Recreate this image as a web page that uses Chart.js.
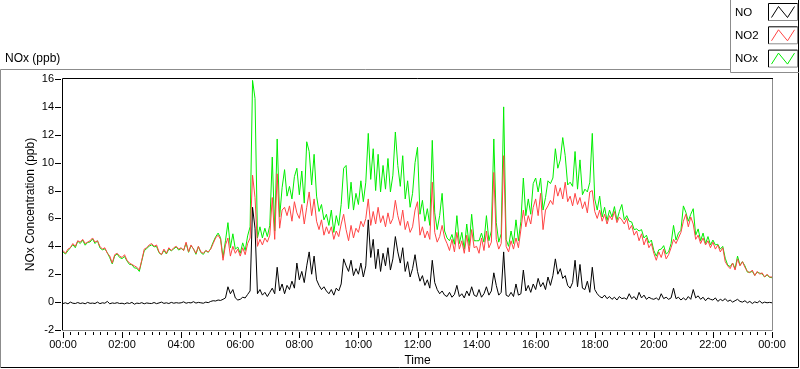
<!DOCTYPE html>
<html>
<head>
<meta charset="utf-8">
<script src="https://cdn.jsdelivr.net/npm/chart.js@4"></script>
<style>
  body { margin: 0; background: #fff; }
</style>
</head>
<body>
<canvas id="myChart" width="800" height="369"></canvas>
<script>
  // samples every 5 minutes, 00:00 -> 24:00 (289 points)
  var NO = [
    -0.10,-0.05,-0.12,0.00,-0.08,-0.10,-0.03,-0.10,-0.06,-0.12,-0.02,-0.09,
    -0.07,-0.10,0.00,-0.11,-0.05,-0.08,0.05,-0.12,-0.06,-0.09,-0.04,-0.10,
    -0.08,-0.13,-0.05,-0.10,-0.02,-0.15,-0.07,-0.10,-0.04,-0.12,-0.06,-0.09,
    -0.10,-0.03,-0.11,-0.06,0.00,-0.09,-0.05,-0.10,-0.02,-0.08,-0.04,-0.07,
    -0.05,0.02,-0.08,-0.03,-0.06,0.03,-0.07,-0.02,-0.05,-0.08,0.00,-0.04,
    0.05,0.10,0.08,0.15,0.12,0.20,0.30,1.10,0.60,0.90,0.30,0.15,
    0.20,0.35,0.30,0.55,0.80,6.80,5.30,0.60,0.90,0.50,0.70,0.40,
    0.70,1.00,0.60,2.50,0.80,1.30,0.60,1.20,0.90,1.50,1.00,2.80,
    1.60,2.20,1.40,2.60,3.60,2.00,3.30,1.60,1.20,0.90,1.10,0.80,
    0.60,0.90,0.50,1.00,0.80,1.30,3.10,2.60,2.20,3.00,1.90,2.40,
    2.00,2.80,1.80,2.60,5.90,3.20,4.50,2.40,3.80,2.20,3.50,2.60,
    3.90,2.30,3.10,4.70,3.60,2.80,3.90,2.20,2.90,1.80,2.40,3.40,
    2.20,1.50,1.90,1.20,1.60,1.00,3.00,1.40,0.90,0.60,0.80,0.50,
    0.40,0.70,0.35,0.55,1.20,0.40,0.60,0.30,0.80,0.45,1.10,0.50,
    0.40,0.90,0.35,0.60,1.10,0.50,0.80,2.10,1.20,0.50,0.70,3.60,
    0.50,0.40,0.70,0.40,1.30,0.50,0.60,2.30,0.80,1.20,0.70,1.30,
    0.90,1.70,1.10,1.40,0.90,1.80,1.20,1.90,3.10,2.00,2.40,1.70,
    1.90,1.20,1.00,1.40,3.00,1.10,2.70,1.00,0.90,1.50,0.70,2.50,
    0.90,0.60,0.40,0.30,0.50,0.25,0.40,0.20,0.35,0.15,0.40,0.25,
    0.30,0.20,0.60,0.25,0.40,0.15,0.70,0.30,0.50,0.20,0.35,0.25,
    0.20,0.30,0.15,0.60,0.25,0.35,0.20,0.30,1.00,0.25,0.35,0.15,
    0.30,0.15,0.40,0.20,0.90,0.30,0.45,0.20,0.35,0.10,0.30,0.20,
    0.15,0.30,0.05,0.20,0.10,0.25,0.05,0.15,0.00,0.10,0.20,0.05,
    0.00,0.10,-0.05,0.05,-0.10,0.02,-0.05,0.08,-0.08,0.00,-0.05,-0.02,
    -0.05
  ];

  var NO2 = [
    3.7,3.5,3.8,3.9,4.2,4.0,4.4,4.3,4.5,4.2,4.3,4.4,
    4.6,4.3,4.4,4.0,3.8,3.9,3.5,3.3,2.8,3.4,3.5,3.3,
    3.2,3.4,3.0,2.8,2.7,2.6,2.5,2.3,3.0,3.8,3.9,4.1,
    4.2,4.0,4.1,3.6,3.4,3.8,3.5,3.9,3.7,3.9,4.0,3.8,
    3.9,3.7,4.3,3.6,4.1,3.8,3.5,4.0,3.6,3.5,3.7,3.6,
    3.8,4.2,4.6,4.8,4.5,3.0,4.1,4.6,3.3,4.0,3.5,3.8,
    3.3,3.9,3.4,4.2,4.6,9.1,7.5,4.0,4.5,4.1,4.6,4.3,
    4.8,7.5,4.5,9.2,5.3,6.6,6.8,6.2,6.9,5.8,7.2,6.4,
    6.0,7.0,5.6,6.8,7.9,6.2,7.4,5.8,5.2,5.9,4.8,5.4,
    4.9,5.4,4.5,5.1,4.7,5.6,6.3,5.2,4.4,5.5,4.6,5.3,
    5.0,5.8,5.4,6.0,7.4,5.5,6.5,5.6,6.8,5.7,6.2,5.4,
    6.4,5.6,6.0,7.3,6.2,5.5,6.6,5.2,5.8,5.0,5.4,6.6,
    7.2,4.8,5.4,4.6,5.1,4.5,8.6,5.0,4.3,4.7,5.5,4.6,
    4.2,3.7,4.5,3.6,5.0,3.8,4.4,3.5,4.8,3.6,5.2,3.9,
    4.0,3.5,4.6,3.7,5.1,3.9,4.3,9.3,4.5,3.8,4.2,10.5,
    4.0,3.6,4.4,3.8,4.6,3.9,5.2,6.6,5.4,6.2,5.6,6.8,
    7.4,6.2,7.8,5.2,6.6,6.9,7.3,7.0,8.4,7.6,8.2,7.4,
    8.6,7.2,7.6,6.9,7.8,7.0,7.5,6.7,7.2,6.4,7.9,8.0,
    6.5,6.0,6.6,5.8,6.3,5.6,6.2,5.9,6.5,5.7,6.1,5.9,
    5.6,6.0,5.2,5.5,4.8,5.1,4.4,4.9,4.1,4.6,3.9,4.2,
    3.5,3.0,3.6,3.2,3.8,3.1,3.4,3.9,4.5,4.2,4.6,5.0,
    5.8,6.3,5.4,6.1,5.6,4.5,4.8,4.2,4.6,4.1,4.4,3.9,
    4.3,3.8,4.1,3.6,3.9,2.9,2.6,2.4,2.8,2.3,3.1,2.6,
    2.9,2.5,2.2,2.1,2.3,1.9,2.2,2.0,2.1,1.8,2.0,1.8,
    1.8
  ];

  var NOx = [
    3.60,3.45,3.68,3.90,4.12,3.90,4.37,4.20,4.44,4.08,4.28,4.31,
    4.53,4.20,4.40,3.89,3.75,3.82,3.55,3.18,2.74,3.31,3.46,3.20,
    3.12,3.27,2.95,2.70,2.68,2.45,2.43,2.20,2.96,3.68,3.84,4.01,
    4.10,3.97,3.99,3.54,3.40,3.71,3.45,3.80,3.68,3.82,3.96,3.73,
    3.85,3.72,4.22,3.57,4.04,3.83,3.43,3.98,3.55,3.42,3.70,3.56,
    3.85,4.30,4.68,4.95,4.62,3.20,4.40,5.70,3.90,4.90,3.80,3.95,
    3.50,4.25,3.70,4.75,5.40,15.9,14.6,4.60,5.40,4.60,5.30,4.70,
    5.50,10.4,5.10,11.7,6.10,8.20,9.50,7.60,8.30,7.40,9.00,9.60,
    7.70,9.40,7.10,11.5,10.8,8.40,10.6,7.60,6.50,7.00,5.90,6.30,
    5.50,6.60,5.00,6.20,5.50,7.00,9.60,9.80,6.70,8.60,6.60,7.80,
    7.00,8.70,7.20,8.60,12.1,8.80,11.0,8.00,10.6,7.90,9.80,8.10,
    10.3,7.90,9.10,12.2,9.80,8.30,10.5,7.40,8.70,6.80,7.80,10.0,
    11.1,6.30,7.30,5.80,6.70,5.50,11.6,6.40,5.20,6.20,7.80,5.10,
    4.60,4.40,4.85,4.15,6.20,4.20,5.00,3.80,5.60,4.05,6.30,4.40,
    4.40,4.40,4.95,4.30,6.20,4.40,5.10,11.7,5.70,4.30,4.90,14.0,
    4.50,4.00,5.10,4.20,5.90,4.40,5.80,8.90,6.20,7.40,6.30,8.50,
    8.90,7.90,8.90,6.60,7.50,8.70,8.50,8.90,11.0,9.60,10.2,11.8,
    10.5,8.40,8.60,8.30,10.8,8.10,10.2,7.70,8.10,7.90,8.60,12.1,
    7.40,6.60,7.60,6.10,6.80,5.85,6.60,6.10,6.85,5.85,6.50,7.00,
    5.90,6.20,5.80,5.75,5.20,5.25,5.10,5.20,4.60,4.80,4.25,4.45,
    3.70,3.30,3.75,3.80,4.05,3.45,3.60,4.20,5.50,4.45,4.95,5.15,
    6.90,6.45,5.80,6.30,6.70,4.80,5.25,4.40,4.95,4.20,4.70,4.10,
    4.45,4.10,4.15,3.80,4.00,3.15,2.65,2.55,2.80,2.40,3.30,2.65,
    2.90,2.60,2.15,2.15,2.20,1.92,2.15,2.08,2.02,1.80,1.95,1.78,
    1.75
  ];

  var xTickLabels = ['00:00','02:00','04:00','06:00','08:00','10:00','12:00',
                     '14:00','16:00','18:00','20:00','22:00','00:00'];
  var yTicks = [-2, 0, 2, 4, 6, 8, 10, 12, 14, 16];

  // minutes since midnight for each sample
  var minutes = NO.map(function(v, i){ return i * 5; });
  function pts(arr){ return arr.map(function(v, i){ return {x: minutes[i], y: v}; }); }

  var FONT = 'Liberation Sans';

  // LabVIEW-ish frame, ticks, title and plot legend
  const decor = {
    id: 'decor',
    afterDraw(chart) {
      const ctx = chart.ctx, a = chart.chartArea;
      const xs = chart.scales.x, ys = chart.scales.y;
      ctx.save();
      ctx.lineWidth = 1;

      // outer panel
      ctx.strokeStyle = '#8c8c8c';
      ctx.beginPath();
      ctx.moveTo(0.5, 368); ctx.lineTo(0.5, 69.5); ctx.lineTo(730, 69.5);
      ctx.stroke();
      ctx.strokeStyle = '#000';
      ctx.beginPath();
      ctx.moveTo(1, 367.5); ctx.lineTo(798.5, 367.5); ctx.lineTo(798.5, 0);
      ctx.stroke();

      // plot border
      ctx.strokeStyle = '#000';
      ctx.beginPath();
      ctx.moveTo(a.left - 0.5, a.bottom); ctx.lineTo(a.left - 0.5, a.top - 0.5); ctx.lineTo(a.right + 1, a.top - 0.5);
      ctx.stroke();
      ctx.strokeStyle = '#8c8c8c';
      ctx.beginPath();
      ctx.moveTo(a.right + 0.5, a.top); ctx.lineTo(a.right + 0.5, a.bottom + 0.5); ctx.lineTo(a.left - 1, a.bottom + 0.5);
      ctx.stroke();

      // x ticks (major every 2 h, minor every 15 min)
      ctx.fillStyle = '#000';
      for (let m = 0; m <= 1440; m += 15) {
        const px = Math.round(xs.getPixelForValue(m));
        const len = (m % 120 === 0) ? 6 : 3;
        ctx.fillRect(px, a.bottom + 2, 1, len);
      }
      // y ticks
      yTicks.forEach(function(v){
        const py = Math.round(ys.getPixelForValue(v));
        ctx.fillRect(55, py, 6, 1);
      });

      // chart title
      ctx.font = '12px "' + FONT + '"';
      ctx.textBaseline = 'middle';
      ctx.textAlign = 'left';
      ctx.fillText('NOx (ppb)', 5, 59);

      // legend box
      ctx.strokeStyle = '#8c8c8c';
      ctx.beginPath();
      ctx.moveTo(730.5, 0); ctx.lineTo(730.5, 72.5); ctx.lineTo(799, 72.5);
      ctx.stroke();
      ctx.font = '11.5px "' + FONT + '"';
      chart.data.datasets.forEach(function(ds, i){
        const by = 3.5 + i * 23.3;
        ctx.fillStyle = '#000';
        ctx.fillText(ds.label, 735, by + 9);
        const bx = 768.5, bw = 29, bh = 17;
        ctx.fillStyle = '#fff';
        ctx.fillRect(bx, by, bw, bh);
        ctx.strokeStyle = '#8c8c8c';
        ctx.beginPath();
        ctx.moveTo(bx + bw, by); ctx.lineTo(bx + bw, by + bh); ctx.lineTo(bx, by + bh);
        ctx.stroke();
        ctx.strokeStyle = '#000';
        ctx.beginPath();
        ctx.moveTo(bx, by + bh); ctx.lineTo(bx, by); ctx.lineTo(bx + bw, by);
        ctx.stroke();
        ctx.strokeStyle = ds.borderColor;
        ctx.beginPath();
        ctx.moveTo(bx + 3, by + bh - 3);
        ctx.lineTo(bx + 10, by + 3);
        ctx.lineTo(bx + 19, by + bh - 3);
        ctx.lineTo(bx + 26, by + 3);
        ctx.stroke();
      });
      ctx.restore();
    }
  };

  const data = {
    datasets: [
      { label: 'NO',  data: pts(NO),  borderColor: '#000000' },
      { label: 'NO2', data: pts(NO2), borderColor: '#ff4444' },
      { label: 'NOx', data: pts(NOx), borderColor: '#00ee00' }
    ]
  };

  const config = {
    type: 'line',
    data: data,
    options: {
      responsive: false,
      animation: false,
      parsing: false,
      layout: { padding: { top: 79, right: 28, left: 0, bottom: 0 } },
      elements: {
        line: { borderWidth: 1, tension: 0 },
        point: { radius: 0 }
      },
      plugins: {
        legend: { display: false },
        tooltip: { enabled: false }
      },
      scales: {
        x: {
          type: 'linear',
          min: 0,
          max: 1440,
          grid: { display: false, drawTicks: false },
          border: { display: false },
          ticks: {
            stepSize: 120,
            padding: 8,
            maxRotation: 0,
            autoSkip: false,
            color: '#000',
            font: { family: FONT, size: 11 },
            callback: function(v){ return xTickLabels[Math.round(v / 120)]; }
          },
          title: {
            display: true,
            text: 'Time',
            color: '#000',
            font: { family: FONT, size: 12 },
            padding: { top: 0, bottom: 1 }
          },
          afterFit: function(s){ s.height = 39; }
        },
        y: {
          min: -2,
          max: 16,
          grid: { display: false, drawTicks: false },
          border: { display: false },
          ticks: {
            stepSize: 2,
            padding: 9,
            color: '#000',
            font: { family: FONT, size: 11 }
          },
          title: {
            display: true,
            text: 'NOx Concentration (ppb)',
            color: '#000',
            font: { family: FONT, size: 12 },
            padding: { top: 23, bottom: 0 }
          },
          afterFit: function(s){ s.width = 63; }
        }
      }
    },
    plugins: [decor]
  };

  const myChart = new Chart(document.getElementById('myChart'), config);
</script>
</body>
</html>
